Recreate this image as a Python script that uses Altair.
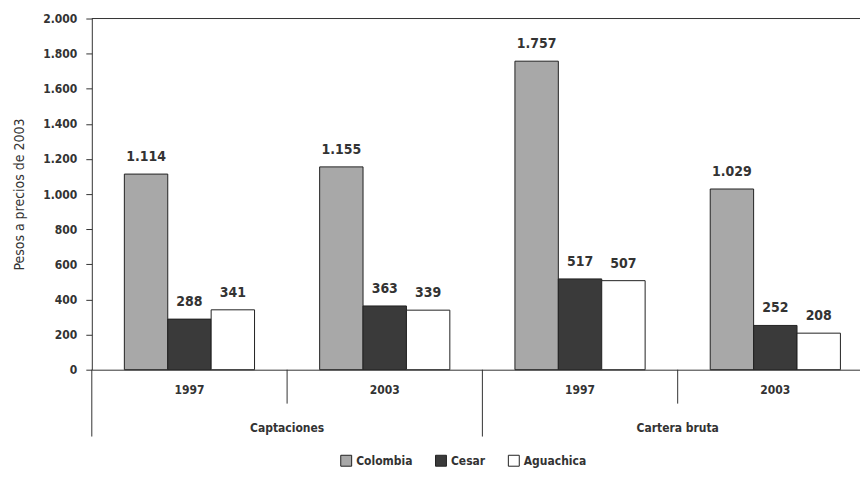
import altair as alt
import pandas as pd

categories = ["Captaciones", "Captaciones", "Cartera bruta", "Cartera bruta"]
years = ["1997", "2003", "1997", "2003"]
series = ["Colombia", "Cesar", "Aguachica"]
colombia = [1114, 1155, 1757, 1029]
cesar = [288, 363, 517, 252]
aguachica = [341, 339, 507, 208]
colors = ["#a8a8a8", "#3a3a3a", "#ffffff"]
y_ticks = [0, 200, 400, 600, 800, 1000, 1200, 1400, 1600, 1800, 2000]
y_title = "Pesos  a precios de 2003"

keys = [f"{c}|{y}" for c, y in zip(categories, years)]
rows = []
for i, k in enumerate(keys):
    for s, vals in zip(series, [colombia, cesar, aguachica]):
        v = vals[i]
        rows.append({"key": k, "serie": s, "valor": v,
                     "etiqueta": f"{v:,}".replace(",", ".")})
df = pd.DataFrame(rows)

W, H = 770, 352
RANGE = 783
FONT = "Liberation Sans Narrow, DejaVu Sans Condensed, Arial Narrow, sans-serif"
INK = "#333333"

xscale = alt.Scale(domain=keys, paddingInner=0, paddingOuter=0, range=[0, RANGE])
xaxis = alt.Axis(title=None, labelExpr="split(datum.label, '|')[1]", ticks=False,
                 domain=True, domainColor=INK, labelAngle=0, labelPadding=15,
                 labelFont=FONT, labelFontWeight="bold", labelFontSize=12,
                 labelColor=INK)
yscale = alt.Scale(domain=[0, 2000], nice=False)
yaxis = alt.Axis(values=y_ticks, labelExpr="replace(format(datum.value, ','), ',', '.')",
                 tickSize=6, tickColor=INK, grid=False, domainColor=INK,
                 labelFont=FONT, labelFontWeight="bold", labelFontSize=12,
                 labelColor=INK, labelPadding=9,
                 title=y_title, titleFont=FONT, titleFontWeight="normal",
                 titleFontSize=14, titleColor=INK, titlePadding=16)
xoff = alt.XOffset("serie:N", sort=series,
                   scale=alt.Scale(domain=series, paddingInner=0, paddingOuter=0.75))

base = alt.Chart(df)
bars = base.mark_bar(stroke="#222222", strokeWidth=1).encode(
    x=alt.X("key:N", scale=xscale, axis=xaxis, sort=keys),
    xOffset=xoff,
    y=alt.Y("valor:Q", scale=yscale, axis=yaxis),
    color=alt.Color("serie:N", sort=series,
                    scale=alt.Scale(domain=series, range=colors),
                    legend=alt.Legend(title=None, orient="none", direction="horizontal",
                                      legendX=249, legendY=437,
                                      symbolType="square", symbolSize=120,
                                      symbolStrokeColor="#222222", symbolStrokeWidth=1,
                                      symbolOpacity=1,
                                      labelFont=FONT, labelFontWeight="bold",
                                      labelFontSize=12, labelColor=INK,
                                      columnPadding=20, labelOffset=4)),
)
labels = base.mark_text(baseline="alphabetic", dy=-13, font=FONT, fontWeight="bold",
                        fontSize=14, color=INK).encode(
    x=alt.X("key:N", scale=xscale, axis=xaxis, sort=keys),
    xOffset=xoff,
    y=alt.Y("valor:Q", scale=yscale, axis=yaxis),
    text="etiqueta:N",
)

top = alt.Chart(pd.DataFrame({"v": [2000]})).mark_rule(color=INK, strokeWidth=1).encode(
    y=alt.Y("v:Q", scale=yscale, axis=yaxis), x=alt.value(0), x2=alt.value(RANGE))

short_df = pd.DataFrame({"key": [keys[1], keys[3]]})
long_df = pd.DataFrame({"key": [keys[0], keys[2]]})
cat_df = pd.DataFrame({"key": [keys[1], keys[3]], "cat": [categories[1], categories[3]]})

short = alt.Chart(short_df).mark_rule(color=INK, strokeWidth=1).encode(
    x=alt.X("key:N", scale=xscale, axis=xaxis, bandPosition=0, sort=keys),
    y=alt.value(H), y2=alt.value(H + 34))
longr = alt.Chart(long_df).mark_rule(color=INK, strokeWidth=1).encode(
    x=alt.X("key:N", scale=xscale, axis=xaxis, bandPosition=0, sort=keys),
    y=alt.value(H), y2=alt.value(H + 67))
cats = alt.Chart(cat_df).mark_text(font=FONT, fontWeight="bold", fontSize=12,
                                   color=INK, baseline="middle").encode(
    x=alt.X("key:N", scale=xscale, axis=xaxis, bandPosition=0, sort=keys),
    y=alt.value(H + 58), text="cat:N")

chart = alt.layer(bars, labels, top, short, longr, cats).properties(
    width=W, height=H,
    autosize=alt.AutoSizeParams(type="none"),
    padding={"left": 84, "top": 10, "right": 0, "bottom": 100},
    background="#ffffff",
).configure_view(stroke=None)

chart.save("out.html", embed_options={"renderer": "svg", "actions": False})
